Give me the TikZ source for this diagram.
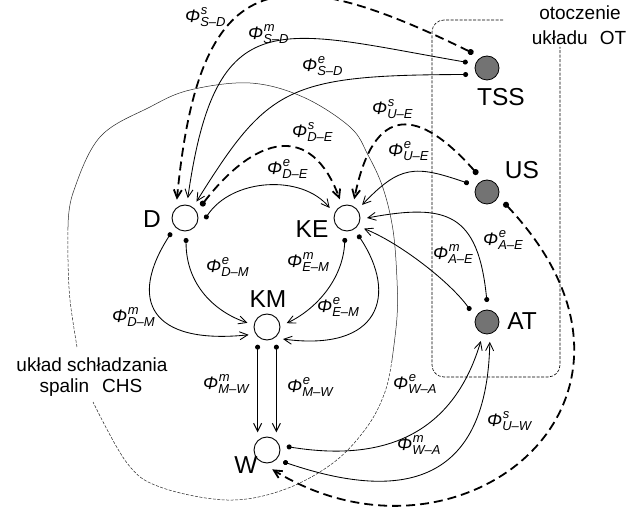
\documentclass[tikz,border=0pt]{standalone}
\usepackage{fontspec}
\setmainfont{Liberation Sans}
\usetikzlibrary{arrows.meta}
\newcommand{\subf}{\fontsize{13}{13}\selectfont\itshape}
\newcommand{\flx}[2]{\textit{Φ}\rlap{\raisebox{8pt}{\subf\kern0.5pt #1}}\raisebox{-4pt}{\subf #2}}
\begin{document}
\begin{tikzpicture}[x=1pt,y=-1pt,
  bignode/.style={circle,draw,line width=0.9pt,minimum size=26pt,inner sep=0pt,outer sep=7pt},
  envnode/.style={circle,draw,line width=0.8pt,fill=black!55,minimum size=24pt,inner sep=0pt,outer sep=8pt},
  lbl/.style={font=\fontsize{24.5}{24.5}\selectfont,inner sep=0pt},
  lab/.style={font=\fontsize{18}{18}\selectfont,inner sep=0pt,anchor=base west},
  flow/.style={line width=0.85pt,{Circle[length=5pt]}-{Straight Barb[length=8pt,width=8pt]}},
  sflow/.style={line width=1.8pt,dash pattern=on 9pt off 5pt,{Circle[length=6pt]}-{Straight Barb[length=8pt,width=8pt]}},
  txt/.style={font=\fontsize{19}{24}\selectfont,inner sep=0pt,anchor=base},
  chs/.style={line width=0.5pt,black!85},
  chsd/.style={chs,dash pattern=on 3pt off 1.5pt},
  otline/.style={line width=0.6pt,dash pattern=on 3pt off 1.5pt,rounded corners=12pt}
]
\useasboundingbox (0,0) rectangle (640,510);

% regions
\draw[chs] plot[smooth,tension=0.6] coordinates {(68,228) (73,193) (100,137) (150,107) (190,90) (250,83) (303,97) (350,127) (368,155) (383,188) (393,230) (397,280) (397,317) (392,360)};
\draw[chsd] plot[smooth,tension=0.6] coordinates {(392,360) (385,392) (367,427) (333,463) (283,490) (227,500) (160,487) (127,463) (93,402)};
\draw[chsd] plot[smooth,tension=0.6] coordinates {(77,347) (70,300) (68,260) (68,228)};
\draw[otline] (503,20) -- (432,20) -- (432,377) -- (560,377) -- (560,47);

\node[txt] (ot1) at (580,20) {otoczenie};
\node[txt] (ot2) at (579,45) {układu\hspace{12pt}OT};
\node[txt] (chs1) at (92,372) {układ schładzania};
\node[txt] (chs2) at (91,393) {spalin\hspace{13pt}CHS};

% nodes
\node[bignode] (D) at (185,218) {};
\node[bignode] (KE) at (347,218) {};
\node[bignode] (KM) at (267,327) {};
\node[bignode] (W) at (267,450) {};
\node[envnode] (TSS) at (487,68) {};
\node[envnode] (US) at (487,192) {};
\node[envnode] (AT) at (487,322) {};

\node[lbl] (lD) at (152,219) {D};
\node[lbl] (lKE) at (312,229) {KE};
\node[lbl] (lKM) at (268,299) {KM};
\node[lbl] (lW) at (246,465) {W};
\node[lbl] (lTSS) at (501,97) {TSS};
\node[lbl] (lUS) at (522,170) {US};
\node[lbl] (lAT) at (522,321) {AT};

% flows
\draw[sflow] (TSS.133) .. controls (275,-44) and (199,-32) .. (D.114);
\draw[flow] (TSS.164) .. controls (279,30) and (216,-1) .. (D.82);
\draw[flow] (TSS.199) .. controls (287,75) and (268,87) .. (D.55);
\draw[sflow] (US.118) .. controls (419,108) and (374,102) .. (KE.69);
\draw[flow] (US.155) .. controls (415,165) and (400,165) .. (KE.41);
\draw[sflow] (D.37) .. controls (256,135) and (311,122) .. (KE.111);
\draw[flow] (D.357) .. controls (232,178) and (302,174) .. (KE.150);
\draw[flow] (AT.90) .. controls (478,213) and (447,203) .. (KE.0);
\draw[flow] (AT.145) .. controls (450,282) and (400,243) .. (KE.328);
\draw[sflow] (US.328) .. controls (690,400) and (460,585) .. (W.285);
\draw[flow] (W.10) .. controls (370,460) and (450,445) .. (AT.252);
\draw[flow] (W.324) .. controls (395,500) and (487,490) .. (AT.278);
\draw[flow,line width=1pt] (KM.242) -- (W.118);
\draw[flow,line width=1pt] (KM.298) -- (W.62);
\draw[flow] (D.273) .. controls (186,285) and (215,312) .. (KM.168);
\draw[flow] (D.227) .. controls (128,300) and (150,345) .. (KM.203);
\draw[flow] (KE.264) .. controls (343,280) and (315,310) .. (KM.11);
\draw[flow] (KE.303) .. controls (398,295) and (380,352) .. (KM.323);

% labels
\node[lab] (f1) at (185,23) {\flx{s}{S–D}};
\node[lab] (f2) at (248,40) {\flx{m}{S–D}};
\node[lab] (f3) at (302,72) {\flx{e}{S–D}};
\node[lab] (f4) at (292,138) {\flx{s}{D–E}};
\node[lab] (f5) at (267,175) {\flx{e}{D–E}};
\node[lab] (f6) at (372,115) {\flx{s}{U–E}};
\node[lab] (f7) at (388,157) {\flx{e}{U–E}};
\node[lab] (f8) at (206,273) {\flx{e}{D–M}};
\node[lab] (f9) at (287,268) {\flx{m}{E–M}};
\node[lab] (f10) at (112,323) {\flx{m}{D–M}};
\node[lab] (f11) at (317,313) {\flx{e}{E–M}};
\node[lab] (f12) at (203,390) {\flx{m}{M–W}};
\node[lab] (f13) at (287,393) {\flx{e}{M–W}};
\node[lab] (f14) at (393,390) {\flx{e}{W–A}};
\node[lab] (f15) at (397,450) {\flx{m}{W–A}};
\node[lab] (f16) at (487,427) {\flx{s}{U–W}};
\node[lab] (f17) at (433,260) {\flx{m}{A–E}};
\node[lab] (f18) at (483,246) {\flx{e}{A–E}};
\end{tikzpicture}
\end{document}
